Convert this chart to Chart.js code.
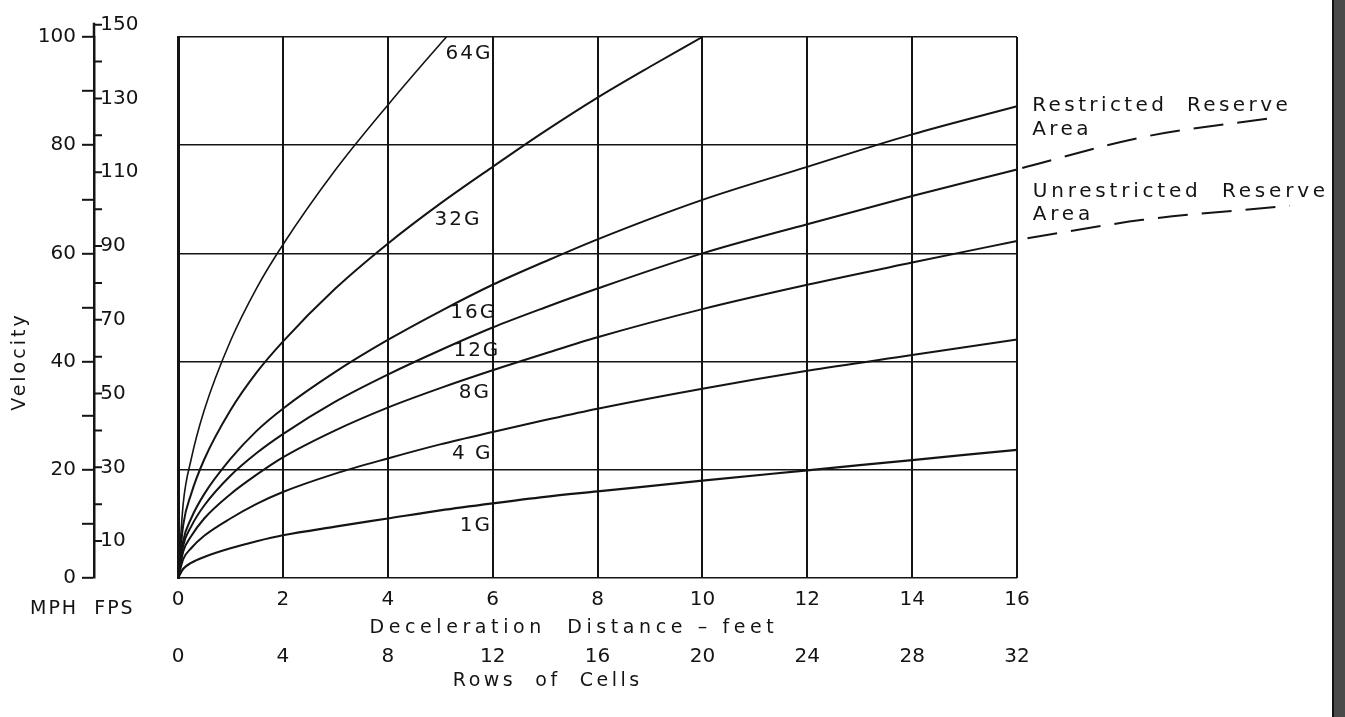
<!DOCTYPE html>
<html>
<head>
<meta charset="utf-8">
<title>Velocity vs Deceleration Distance</title>
<script src="https://cdn.jsdelivr.net/npm/chart.js@4.4.0/dist/chart.umd.min.js"></script>
<style>
	html, body { margin: 0; padding: 0; background: #fff; }
	canvas { display: block; }
</style>
</head>
<body>
<canvas id="grafico" width="1345" height="717"></canvas>
<script>
// 1 mph = 5280/3600 fps
const FPS_POR_MPH = 5280 / 3600;

// Distancia de deceleración (pies) donde se leyeron las curvas, velocidades en MPH
const dist = [0, 0.1, 0.25, 0.5, 1, 1.5, 2, 3, 4, 5, 6, 7, 8, 10, 12, 14, 16];
const v1G  = [0, 1.7, 2.8, 3.9, 5.5, 6.8, 7.9, 9.5, 11.0, 12.5, 13.8, 15.0, 16.0, 18.0, 19.9, 21.8, 23.7];
const v4G  = [0, 3.5, 5.5, 7.8, 11.0, 13.7, 15.9, 19.3, 22.1, 24.7, 27.0, 29.2, 31.3, 35.0, 38.3, 41.2, 44.1];
const v8G  = [0, 4.9, 7.7, 11.0, 15.5, 19.1, 22.3, 27.3, 31.5, 35.1, 38.4, 41.5, 44.5, 49.7, 54.2, 58.3, 62.3];
const v12G = [0, 6.0, 9.5, 13.4, 18.9, 23.1, 26.6, 32.6, 37.6, 42.1, 46.3, 50.0, 53.5, 60.0, 65.4, 70.6, 75.5];
const v16G = [0, 6.9, 11.0, 15.5, 22.0, 27.2, 31.3, 38.1, 44.0, 49.3, 54.2, 58.5, 62.6, 69.9, 76.0, 82.0, 87.2];

const dist32 = [0, 0.1, 0.25, 0.5, 1, 1.5, 2, 3, 4, 5, 6, 7, 8, 9, 10];
const v32G   = [0, 9.8, 15.5, 21.9, 31.0, 38.0, 43.7, 53.5, 61.8, 69.2, 76.0, 82.6, 88.8, 94.5, 100];

const dist64 = [0, 0.1, 0.25, 0.5, 1, 1.5, 2, 3, 4, 5, 5.12];
const v64G   = [0, 13.8, 21.9, 31.0, 43.8, 53.6, 61.6, 75.4, 87.4, 98.7, 100];

// Prolongaciones a trazos fuera del gráfico
const distRestringida = [16.1, 18.4, 21.0];
const vRestringida    = [75.8, 81.5, 85.2];
const distLibre = [16.2, 18.4, 21.2];
const vLibre    = [62.8, 66.2, 68.8];

// Rótulos de las curvas: texto y punto (pies, MPH) donde van centrados
const curvasTexto = ["64G", "32G", "16G", "12G", "8G", "4 G", "1G"];
const curvasX = [5.55, 5.34, 5.64, 5.70, 5.66, 5.61, 5.68];
const curvasY = [96.9, 66.2, 49.0, 42.0, 34.2, 22.9, 9.6];

// Marcas del eje FPS
const marcasFps = [10, 20, 30, 40, 50, 60, 70, 80, 90, 100, 110, 120, 130, 140, 150];

const tinta = "#141414";
const familia = '"DejaVu Sans", sans-serif';

const puntos = (xs, ys) => xs.map((d, i) => ({ x: d, y: ys[i] }));

const curva = (label, xs, ys, ancho) => ({
	label: label,
	data: puntos(xs, ys),
	borderColor: tinta,
	borderWidth: ancho,
	pointRadius: 0,
	cubicInterpolationMode: "monotone",
	xAxisID: "x",
	yAxisID: "y",
});

const trazos = (label, xs, ys) => ({
	label: label,
	data: puntos(xs, ys),
	borderColor: tinta,
	borderWidth: 2,
	borderDash: [30, 14],
	pointRadius: 0,
	cubicInterpolationMode: "monotone",
	clip: false,
	xAxisID: "x",
	yAxisID: "y",
});

const texto = (ctx, t, x, y, size, align, espacio) => {
	ctx.font = size + "px " + familia;
	ctx.textAlign = align;
	ctx.textBaseline = "middle";
	ctx.letterSpacing = espacio + "px";
	ctx.fillText(t, x, y);
};

// Plugin con el fondo, las marcas FPS de la derecha del eje y los rótulos
const rotulos = {
	id: "rotulos",
	beforeDraw(chart) {
		const { ctx, width, height } = chart;
		ctx.save();
		ctx.fillStyle = "#fff";
		ctx.fillRect(0, 0, width, height);
		ctx.restore();
	},
	afterDraw(chart) {
		const { ctx, width, height } = chart;
		const { x, y, fps } = chart.scales;
		ctx.save();
		ctx.strokeStyle = tinta;
		ctx.fillStyle = tinta;

		// el eje sube hasta 150 fps
		const eje = y.right;
		ctx.lineWidth = 2.5;
		ctx.beginPath();
		ctx.moveTo(eje, y.getPixelForValue(100));
		ctx.lineTo(eje, fps.getPixelForValue(150) - 2);
		ctx.stroke();

		ctx.lineWidth = 2;
		ctx.beginPath();
		marcasFps.forEach((v) => {
			const py = fps.getPixelForValue(v);
			ctx.moveTo(eje, py);
			ctx.lineTo(eje + 8, py);
		});
		ctx.stroke();
		texto(ctx, " 150", fps.left, fps.getPixelForValue(150), 20, "left", 0);

		// títulos
		texto(ctx, "MPH  FPS", 30, 609, 19, "left", 2);
		texto(ctx, "Deceleration  Distance \u2013 feet", x.getPixelForValue(7.55), 628, 19, "center", 4.6);
		texto(ctx, "Rows  of  Cells", x.getPixelForValue(7.05), 681, 19, "center", 3.5);

		ctx.save();
		ctx.translate(20, y.getPixelForValue(40));
		ctx.rotate(-Math.PI / 2);
		texto(ctx, "Velocity", 0, 0, 19, "center", 3);
		ctx.restore();

		// rótulos de las curvas
		curvasTexto.forEach((t, i) => {
			texto(ctx, t, x.getPixelForValue(curvasX[i]), y.getPixelForValue(curvasY[i]), 20, "center", 2);
		});

		// zonas de reserva
		texto(ctx, "Restricted  Reserve", x.getPixelForValue(16.29), y.getPixelForValue(87.2), 20, "left", 3.4);
		texto(ctx, "Area", x.getPixelForValue(16.29), y.getPixelForValue(82.8), 20, "left", 3.4);
		texto(ctx, "Unrestricted  Reserve", x.getPixelForValue(16.3), y.getPixelForValue(71.3), 20, "left", 3.8);
		texto(ctx, "Area", x.getPixelForValue(16.3), y.getPixelForValue(67.1), 20, "left", 3.8);

		// franja oscura del borde derecho
		ctx.fillStyle = "#4a4a4a";
		ctx.fillRect(width - 12, 0, 12, height);
		ctx.fillStyle = "#111";
		ctx.fillRect(width - 13, 0, 2, height);
		ctx.restore();
	},
};

Chart.defaults.font.family = familia;
Chart.defaults.font.size = 20;
Chart.defaults.color = tinta;

const ctx = document.getElementById("grafico");

const graph = new Chart(ctx, {
	type: "line",
	data: {
		datasets: [
			curva("64G", dist64, v64G, 1.6),
			curva("32G", dist32, v32G, 2),
			curva("16G", dist, v16G, 2),
			curva("12G", dist, v12G, 2),
			curva("8G", dist, v8G, 2),
			curva("4 G", dist, v4G, 2),
			curva("1G", dist, v1G, 2.2),
			trazos("Restricted Reserve Area", distRestringida, vRestringida),
			trazos("Unrestricted Reserve Area", distLibre, vLibre),
		],
	},
	options: {
		responsive: false,
		animation: false,
		layout: { padding: { top: 37, right: 328, bottom: 0, left: 0 } },
		plugins: {
			legend: { display: false },
			tooltip: { enabled: false },
		},
		scales: {
			x: {
				type: "linear",
				position: "bottom",
				weight: 0,
				afterDataLimits: (s) => {
					s.min = 0;
					s.max = 16;
				},
				ticks: { stepSize: 2, padding: 10, autoSkip: false },
				grid: { color: tinta, lineWidth: 2, drawTicks: false },
				border: { display: false },
				afterFit: (s) => {
					s.height = 52;
				},
			},
			filas: {
				type: "linear",
				position: "bottom",
				weight: 1,
				min: 0,
				max: 32,
				ticks: { stepSize: 4, padding: 7, autoSkip: false },
				grid: { display: false },
				border: { display: false },
				afterFit: (s) => {
					s.height = 87;
				},
			},
			fps: {
				type: "linear",
				position: "left",
				weight: 1,
				min: 0,
				max: 100 * FPS_POR_MPH,
				ticks: {
					stepSize: 10,
					includeBounds: false,
					autoSkip: false,
					crossAlign: "far",
					callback: (v) => (v % 20 === 10 ? " " + v : ""),
				},
				grid: { display: false },
				border: { display: true, color: tinta, width: 3 },
				afterFit: (s) => {
					s.width = 84;
				},
			},
			y: {
				type: "linear",
				position: "left",
				weight: 2,
				min: 0,
				max: 100,
				ticks: {
					stepSize: 10,
					padding: 6,
					autoSkip: false,
					callback: (v) => (v % 20 === 0 ? v : ""),
				},
				grid: {
					color: (c) => (c.tick && c.tick.value % 20 === 0 ? tinta : "rgba(0,0,0,0)"),
					tickColor: tinta,
					lineWidth: 1.6,
					tickWidth: 2,
					tickLength: 12,
				},
				border: { display: true, color: tinta, width: 2.5 },
				afterFit: (s) => {
					s.width = 94;
				},
			},
		},
	},
	plugins: [rotulos],
});
</script>
</body>
</html>
